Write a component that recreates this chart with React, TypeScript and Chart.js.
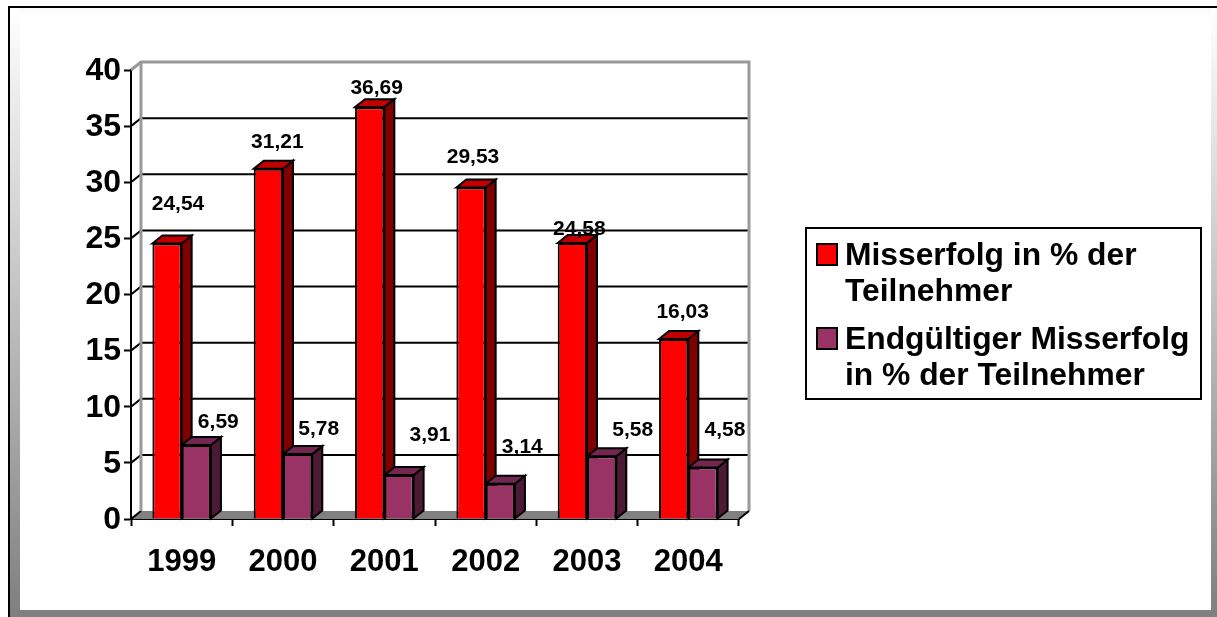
import React, { useEffect, useRef } from "react";
import { Chart, registerables } from "chart.js";

Chart.register(...registerables);

const years = ["1999", "2000", "2001", "2002", "2003", "2004"];
const failurePct = [24.54, 31.21, 36.69, 29.53, 24.58, 16.03];
const finalFailurePct = [6.59, 5.78, 3.91, 3.14, 5.58, 4.58];
const seriesNames = ["Misserfolg in % der Teilnehmer", "Endgültiger Misserfolg in % der Teilnehmer"];

const FONT = '"Liberation Sans", Arial, sans-serif';
const palette = [
  { front: "#ff0000", top: "#c00000", side: "#800000" },
  { front: "#993366", top: "#732650", side: "#4d1a33" },
];
// hand-placed label nudges relative to each bar's top centre
const labelNudge = [
  [[11, -39], [9, -26], [7, -19], [2, -30], [7, -14], [9, -27]],
  [[22, -23], [21, -25], [31, -40], [22, -37], [31, -26], [22, -37]],
];
const wallDepth = { x: 10, y: -8 };
const barDepth = { x: 10, y: -8 };

const fmt = (v: number) => v.toFixed(2).replace(".", ",");

const framePlugin = {
  id: "frame",
  beforeDraw(chart: any) {
    const c = chart.ctx;
    const W = chart.width, H = chart.height;
    c.save();
    c.fillStyle = "#fff";
    c.fillRect(0, 0, W, H);
    const vert = c.createLinearGradient(0, 8, 0, 612);
    vert.addColorStop(0, "#ffffff");
    vert.addColorStop(1, "#808080");
    c.fillStyle = vert;
    c.fillRect(10, 8, 10, H - 8);
    c.fillRect(1211, 8, 6, H - 8);
    const horiz = c.createLinearGradient(0, 8, 0, 17);
    horiz.addColorStop(0, "#fafafa");
    horiz.addColorStop(1, "#ffffff");
    c.fillStyle = horiz;
    c.fillRect(20, 8, 1191, 9);
    c.fillStyle = "#808080";
    c.fillRect(10, 610, W - 10, 7);
    c.fillStyle = "#000";
    c.fillRect(8, 6, W - 8, 2);
    c.fillRect(8, 6, 2, H - 6);
    c.restore();
  },
};

const wallPlugin = {
  id: "wall",
  beforeDatasetsDraw(chart: any) {
    const c = chart.ctx;
    const { left, right, top, bottom } = chart.chartArea;
    const y = chart.scales.y;
    const dx = wallDepth.x, dy = wallDepth.y;
    c.save();
    // floor
    c.fillStyle = "#808080";
    c.beginPath();
    c.moveTo(left, bottom);
    c.lineTo(left + dx, bottom + dy);
    c.lineTo(right + dx, bottom + dy);
    c.lineTo(right, bottom);
    c.closePath();
    c.fill();
    // grid on the back wall, with the slanted link to each front tick
    c.strokeStyle = "#000";
    c.lineWidth = 2;
    y.ticks.forEach((t: any) => {
      const p = y.getPixelForValue(t.value);
      c.beginPath();
      c.moveTo(left, p);
      c.lineTo(left + dx, p + dy);
      if (t.value > 0 && t.value < 40) c.lineTo(right + dx, p + dy);
      c.stroke();
    });
    // wall outline
    c.strokeStyle = "#999999";
    c.lineWidth = 3;
    c.beginPath();
    c.moveTo(left, top);
    c.lineTo(left + dx, top + dy);
    c.lineTo(right + dx, top + dy);
    c.lineTo(right + dx, bottom + dy);
    c.moveTo(left + dx, top + dy);
    c.lineTo(left + dx, bottom + dy);
    c.stroke();
    // lower right corner of the floor
    c.strokeStyle = "#000";
    c.lineWidth = 2;
    c.beginPath();
    c.moveTo(right, bottom);
    c.lineTo(right + dx, bottom + dy);
    c.stroke();

    // extrusions of every bar: first series first, so the second series'
    // faces cover it, and both fronts are drawn afterwards by the library
    const bx = barDepth.x, by = barDepth.y;
    c.strokeStyle = "#000";
    c.lineWidth = 2;
    c.lineJoin = "miter";
    chart.data.datasets.forEach((_: any, d: number) => {
      const colors = palette[d];
      chart.getDatasetMeta(d).data.forEach((bar: any) => {
        const { x, y: top_, base, width } = bar.getProps(["x", "y", "base", "width"], true);
        const l = x - width / 2, r = x + width / 2;
        c.fillStyle = colors.side;
        c.beginPath();
        c.moveTo(r, top_);
        c.lineTo(r + bx, top_ + by);
        c.lineTo(r + bx, base + by);
        c.lineTo(r, base);
        c.closePath();
        c.fill();
        c.stroke();
        c.fillStyle = colors.top;
        c.beginPath();
        c.moveTo(l, top_);
        c.lineTo(l + bx, top_ + by);
        c.lineTo(r + bx, top_ + by);
        c.lineTo(r, top_);
        c.closePath();
        c.fill();
        c.stroke();
      });
    });
    c.restore();
  },
};

const labelsPlugin = {
  id: "labels",
  afterDraw(chart: any) {
    const c = chart.ctx;
    c.save();
    c.fillStyle = "#000";
    c.font = `bold 21px ${FONT}`;
    c.textAlign = "center";
    c.textBaseline = "middle";
    chart.data.datasets.forEach((ds: any, d: number) => {
      chart.getDatasetMeta(d).data.forEach((bar: any, i: number) => {
        const [nx, ny] = labelNudge[d][i];
        c.fillText(fmt(ds.data[i]), bar.x + nx, bar.y + ny);
      });
    });
    c.restore();
  },
};

const legendPlugin = {
  id: "wrappedLegend",
  afterDraw(chart: any) {
    const c = chart.ctx;
    const box = { x: 806, y: 228, w: 395, h: 171 };
    c.save();
    c.fillStyle = "#fff";
    c.fillRect(box.x, box.y, box.w, box.h);
    c.strokeStyle = "#000";
    c.lineWidth = 2;
    c.strokeRect(box.x, box.y, box.w, box.h);
    c.font = `bold 31.8px ${FONT}`;
    c.textBaseline = "alphabetic";
    c.textAlign = "left";
    const maxWidth = 350;
    const firstBaselines = [265, 349];
    const lineStep = 36;
    chart.data.datasets.forEach((ds: any, d: number) => {
      const words = String(ds.label).split(" ");
      const lines: string[] = [];
      let cur = "";
      words.forEach((w) => {
        const next = cur ? cur + " " + w : w;
        if (c.measureText(next).width > maxWidth && cur) {
          lines.push(cur);
          cur = w;
        } else cur = next;
      });
      lines.push(cur);
      const base = firstBaselines[d];
      c.fillStyle = palette[d].front;
      c.fillRect(817, base - 21, 20, 21);
      c.strokeStyle = "#000";
      c.strokeRect(817, base - 21, 20, 21);
      c.fillStyle = "#000";
      lines.forEach((ln, i) => c.fillText(ln, 845, base + i * lineStep));
    });
    c.restore();
  },
};

export default function App() {
  const ref = useRef<HTMLCanvasElement>(null);
  useEffect(() => {
    const chart = new Chart(ref.current as HTMLCanvasElement, {
      type: "bar",
      data: {
        labels: years,
        datasets: [
          { label: seriesNames[0], data: failurePct, backgroundColor: palette[0].front, borderColor: "#000", borderWidth: 2, barPercentage: 1, categoryPercentage: 0.578 },
          { label: seriesNames[1], data: finalFailurePct, backgroundColor: palette[1].front, borderColor: "#000", borderWidth: 2, barPercentage: 1, categoryPercentage: 0.578 },
        ],
      },
      options: {
        responsive: false,
        animation: false,
        devicePixelRatio: 1,
        layout: { padding: { top: 70, right: 478, left: 0, bottom: 0 } },
        plugins: { legend: { display: false }, title: { display: false }, tooltip: { enabled: false } },
        scales: {
          x: {
            offset: true,
            afterFit: (s: any) => { s.height = 98; },
            grid: { drawOnChartArea: false, drawTicks: true, tickLength: 7, tickColor: "#000", tickWidth: 2, offset: true },
            border: { color: "#000", width: 2 },
            ticks: { color: "#000", font: { family: FONT, size: 31, weight: "bold" }, padding: 18, maxRotation: 0 },
          },
          y: {
            min: 0,
            max: 40,
            afterFit: (s: any) => { s.width = 131; },
            grid: { drawOnChartArea: false, drawTicks: true, tickLength: 7, tickColor: "#000", tickWidth: 2 },
            border: { color: "#000", width: 2 },
            ticks: { stepSize: 5, color: "#000", font: { family: FONT, size: 32, weight: "bold" }, padding: 3, labelOffset: 1 },
          },
        },
      },
      plugins: [framePlugin, wallPlugin, labelsPlugin, legendPlugin],
    } as any);
    return () => chart.destroy();
  }, []);
  return (
    <div style={{ position: "fixed", left: 0, top: 0, width: 1217, height: 617, overflow: "hidden" }}>
      <canvas ref={ref} width={1217} height={617} style={{ display: "block" }} />
    </div>
  );
}
